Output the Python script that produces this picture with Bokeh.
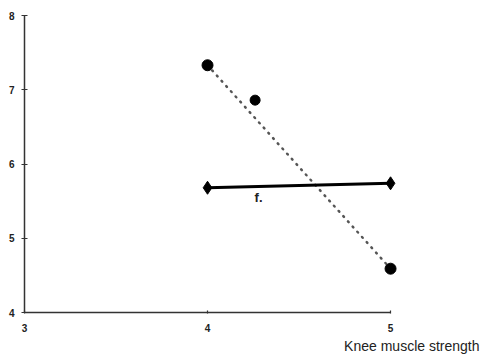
from bokeh.plotting import figure
from bokeh.models import Range1d, Label, FixedTicker, Title
from bokeh.embed import file_html
from bokeh.resources import INLINE

# data
dotted_x = [4, 5]
dotted_y = [7.33, 4.59]
extra_x = [4.26]
extra_y = [6.86]
solid_x = [4, 5]
solid_y = [5.68, 5.74]
label_f = "f."
x_ticks = [3, 4, 5]
y_ticks = [4, 5, 6, 7, 8]
x_title = "Knee muscle strength"

p = figure(width=480, height=360, output_backend="svg", toolbar_location=None,
           x_range=Range1d(3, 5.486), y_range=Range1d(4, 8),
           min_border_left=24, min_border_right=1, min_border_top=15, min_border_bottom=48)
p.outline_line_color = None
p.grid.visible = False
p.background_fill_color = "white"

for ax, ticks, b in ((p.xaxis[0], x_ticks, (3, 5)), (p.yaxis[0], y_ticks, (4, 8))):
    ax.ticker = FixedTicker(ticks=ticks)
    ax.bounds = b
    ax.axis_line_color = "#333333"
    ax.axis_line_width = 1.5
    ax.major_tick_line_color = "#333333"
    ax.major_tick_line_width = 1.2
    ax.minor_tick_line_color = None
    ax.major_label_text_font = "Liberation Sans"
    ax.major_label_text_font_style = "bold"
    ax.major_label_text_font_size = "10px"
    ax.major_label_text_color = "#222222"

p.yaxis.major_tick_in = 3
p.yaxis.major_tick_out = 3
p.yaxis.major_label_standoff = 7
p.xaxis.major_tick_in = 2
p.xaxis.major_tick_out = 1
p.xaxis.major_label_standoff = 10

p.line(dotted_x, dotted_y, line_color="#555555", line_width=2.5, line_dash="1 6", line_cap="round")
p.scatter(dotted_x, dotted_y, size=11, marker="circle", color="black")
p.scatter(extra_x, extra_y, size=10, marker="circle", color="black")

p.line(solid_x, solid_y, line_color="black", line_width=3)
p.scatter(solid_x, solid_y, size=13, marker="diamond", color="black")

p.add_layout(Label(x=4.279, y=5.55, text=label_f, text_font="Liberation Sans",
                   text_font_style="bold", text_font_size="13px", text_color="#222222",
                   text_align="center", text_baseline="middle"))
p.add_layout(Title(text=x_title, align="right", text_font="Liberation Sans",
                   text_font_size="14px", text_font_style="normal", text_color="#222222",
                   standoff=2), "below")

open("out.html", "w").write(file_html(p, INLINE))
